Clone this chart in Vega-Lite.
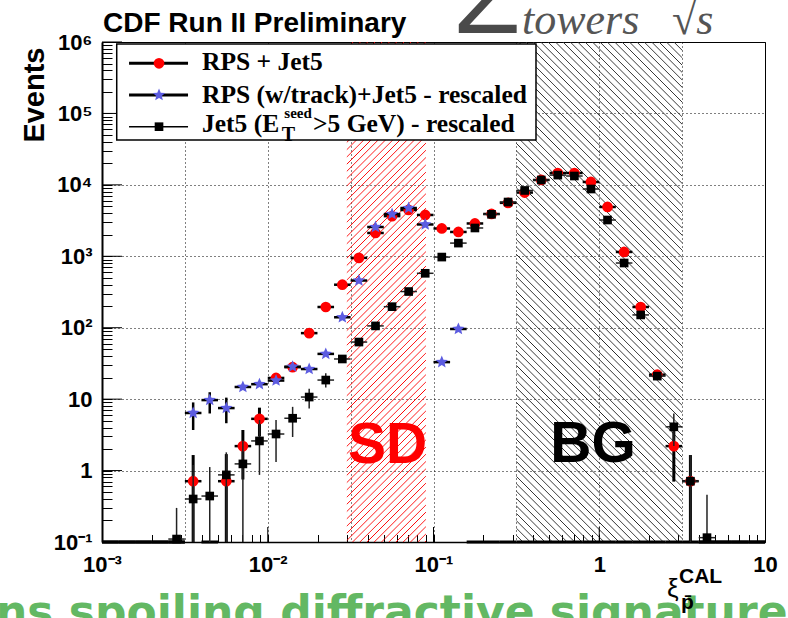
{
  "$schema": "https://vega.github.io/schema/vega-lite/v6.json",
  "width": 663,
  "height": 500,
  "autosize": "none",
  "padding": {"left": 102, "top": 42, "right": 23, "bottom": 76},
  "background": "white",
  "config": {"view": {"stroke": "black", "strokeWidth": 1}, "font": "Liberation Sans"},
  "data": {"values": [{}]},
  "datasets": {
    "bins": [
      {"s":"rps","x":0.001122,"xlo":0.001,"xhi":0.001259,"n":0},
      {"s":"rps","x":0.001413,"xlo":0.001259,"xhi":0.001585,"n":0},
      {"s":"rps","x":0.001778,"xlo":0.001585,"xhi":0.001995,"n":0},
      {"s":"rps","x":0.002239,"xlo":0.001995,"xhi":0.002512,"n":0},
      {"s":"rps","x":0.002818,"xlo":0.002512,"xhi":0.003162,"n":0},
      {"s":"rps","x":0.003548,"xlo":0.003162,"xhi":0.003981,"n":0.71,"lo":0.1,"hi":1.65},
      {"s":"rps","x":0.004467,"xlo":0.003981,"xhi":0.005012,"n":0},
      {"s":"rps","x":0.005623,"xlo":0.005012,"xhi":0.00631,"n":0.71,"lo":0.1,"hi":1.7},
      {"s":"rps","x":0.007079,"xlo":0.00631,"xhi":0.007943,"n":2.2,"lo":0.75,"hi":3.7},
      {"s":"rps","x":0.008913,"xlo":0.007943,"xhi":0.01,"n":5.3,"lo":3,"hi":7.6},
      {"s":"rps","x":0.01122,"xlo":0.01,"xhi":0.01259,"n":19.8},
      {"s":"rps","x":0.01413,"xlo":0.01259,"xhi":0.01585,"n":28},
      {"s":"rps","x":0.01778,"xlo":0.01585,"xhi":0.01995,"n":84},
      {"s":"rps","x":0.02239,"xlo":0.01995,"xhi":0.02512,"n":195},
      {"s":"rps","x":0.02818,"xlo":0.02512,"xhi":0.03162,"n":400},
      {"s":"rps","x":0.03548,"xlo":0.03162,"xhi":0.03981,"n":950},
      {"s":"rps","x":0.04467,"xlo":0.03981,"xhi":0.05012,"n":2120},
      {"s":"rps","x":0.05623,"xlo":0.05012,"xhi":0.0631,"n":3650},
      {"s":"rps","x":0.07079,"xlo":0.0631,"xhi":0.07943,"n":4450},
      {"s":"rps","x":0.08913,"xlo":0.07943,"xhi":0.1,"n":3790},
      {"s":"rps","x":0.1122,"xlo":0.1,"xhi":0.1259,"n":2450},
      {"s":"rps","x":0.1413,"xlo":0.1259,"xhi":0.1585,"n":2190},
      {"s":"rps","x":0.1778,"xlo":0.1585,"xhi":0.1995,"n":2880},
      {"s":"rps","x":0.2239,"xlo":0.1995,"xhi":0.2512,"n":3910},
      {"s":"rps","x":0.2818,"xlo":0.2512,"xhi":0.3162,"n":5600},
      {"s":"rps","x":0.3548,"xlo":0.3162,"xhi":0.3981,"n":7800},
      {"s":"rps","x":0.4467,"xlo":0.3981,"xhi":0.5012,"n":11700},
      {"s":"rps","x":0.5623,"xlo":0.5012,"xhi":0.631,"n":14650},
      {"s":"rps","x":0.7079,"xlo":0.631,"xhi":0.7943,"n":14650},
      {"s":"rps","x":0.8913,"xlo":0.7943,"xhi":1,"n":10970},
      {"s":"rps","x":1.122,"xlo":1,"xhi":1.259,"n":4900},
      {"s":"rps","x":1.413,"xlo":1.259,"xhi":1.585,"n":1150},
      {"s":"rps","x":1.778,"xlo":1.585,"xhi":1.995,"n":195},
      {"s":"rps","x":2.239,"xlo":1.995,"xhi":2.512,"n":22},
      {"s":"rps","x":2.818,"xlo":2.512,"xhi":3.162,"n":2.2,"lo":0.7,"hi":4.5},
      {"s":"rps","x":3.548,"xlo":3.162,"xhi":3.981,"n":0.71,"lo":0.1,"hi":1.65},
      {"s":"rps","x":4.467,"xlo":3.981,"xhi":5.012,"n":0},
      {"s":"rps","x":5.623,"xlo":5.012,"xhi":6.31,"n":0},
      {"s":"rps","x":7.079,"xlo":6.31,"xhi":7.943,"n":0},
      {"s":"rps","x":8.913,"xlo":7.943,"xhi":10,"n":0},

      {"s":"trk","x":0.001122,"xlo":0.001,"xhi":0.001259,"n":0},
      {"s":"trk","x":0.001413,"xlo":0.001259,"xhi":0.001585,"n":0},
      {"s":"trk","x":0.001778,"xlo":0.001585,"xhi":0.001995,"n":0},
      {"s":"trk","x":0.002239,"xlo":0.001995,"xhi":0.002512,"n":0},
      {"s":"trk","x":0.002818,"xlo":0.002512,"xhi":0.003162,"n":0},
      {"s":"trk","x":0.003548,"xlo":0.003162,"xhi":0.003981,"n":6.4,"lo":3.7,"hi":9},
      {"s":"trk","x":0.004467,"xlo":0.003981,"xhi":0.005012,"n":9.7,"lo":6.3,"hi":12.5},
      {"s":"trk","x":0.005623,"xlo":0.005012,"xhi":0.00631,"n":7.5,"lo":4.6,"hi":10.5},
      {"s":"trk","x":0.007079,"xlo":0.00631,"xhi":0.007943,"n":14.8},
      {"s":"trk","x":0.008913,"xlo":0.007943,"xhi":0.01,"n":16.2},
      {"s":"trk","x":0.01122,"xlo":0.01,"xhi":0.01259,"n":18.2},
      {"s":"trk","x":0.01413,"xlo":0.01259,"xhi":0.01585,"n":28.5},
      {"s":"trk","x":0.01778,"xlo":0.01585,"xhi":0.01995,"n":26.4},
      {"s":"trk","x":0.02239,"xlo":0.01995,"xhi":0.02512,"n":43},
      {"s":"trk","x":0.02818,"xlo":0.02512,"xhi":0.03162,"n":140},
      {"s":"trk","x":0.03548,"xlo":0.03162,"xhi":0.03981,"n":458},
      {"s":"trk","x":0.04467,"xlo":0.03981,"xhi":0.05012,"n":2570},
      {"s":"trk","x":0.05623,"xlo":0.05012,"xhi":0.0631,"n":3900},
      {"s":"trk","x":0.07079,"xlo":0.0631,"xhi":0.07943,"n":4740},
      {"s":"trk","x":0.08913,"xlo":0.07943,"xhi":0.1,"n":2790},
      {"s":"trk","x":0.1122,"xlo":0.1,"xhi":0.1259,"n":33},
      {"s":"trk","x":0.1413,"xlo":0.1259,"xhi":0.1585,"n":96},
      {"s":"trk","x":0.1778,"xlo":0.1585,"xhi":0.1995,"n":0},
      {"s":"trk","x":0.2239,"xlo":0.1995,"xhi":0.2512,"n":0},
      {"s":"trk","x":0.2818,"xlo":0.2512,"xhi":0.3162,"n":0},
      {"s":"trk","x":0.3548,"xlo":0.3162,"xhi":0.3981,"n":0},
      {"s":"trk","x":0.4467,"xlo":0.3981,"xhi":0.5012,"n":0},
      {"s":"trk","x":0.5623,"xlo":0.5012,"xhi":0.631,"n":0},
      {"s":"trk","x":0.7079,"xlo":0.631,"xhi":0.7943,"n":0},
      {"s":"trk","x":0.8913,"xlo":0.7943,"xhi":1,"n":0},
      {"s":"trk","x":1.122,"xlo":1,"xhi":1.259,"n":0},
      {"s":"trk","x":1.413,"xlo":1.259,"xhi":1.585,"n":0},
      {"s":"trk","x":1.778,"xlo":1.585,"xhi":1.995,"n":0},
      {"s":"trk","x":2.239,"xlo":1.995,"xhi":2.512,"n":0},
      {"s":"trk","x":2.818,"xlo":2.512,"xhi":3.162,"n":0},
      {"s":"trk","x":3.548,"xlo":3.162,"xhi":3.981,"n":0},
      {"s":"trk","x":4.467,"xlo":3.981,"xhi":5.012,"n":0},
      {"s":"trk","x":5.623,"xlo":5.012,"xhi":6.31,"n":0},
      {"s":"trk","x":7.079,"xlo":6.31,"xhi":7.943,"n":0},
      {"s":"trk","x":8.913,"xlo":7.943,"xhi":10,"n":0},

      {"s":"jet","x":0.002818,"xlo":0.002512,"xhi":0.003162,"n":0.11,"lo":0.1,"hi":0.3},
      {"s":"jet","x":0.003548,"xlo":0.003162,"xhi":0.003981,"n":0.4,"lo":0.1,"hi":1.2},
      {"s":"jet","x":0.004467,"xlo":0.003981,"xhi":0.005012,"n":0.44,"lo":0.1,"hi":1.12},
      {"s":"jet","x":0.005623,"xlo":0.005012,"xhi":0.00631,"n":0.87,"lo":0.1,"hi":1.8},
      {"s":"jet","x":0.007079,"xlo":0.00631,"xhi":0.007943,"n":1.24,"lo":0.1,"hi":2.6},
      {"s":"jet","x":0.008913,"xlo":0.007943,"xhi":0.01,"n":2.6,"lo":0.87,"hi":5.1},
      {"s":"jet","x":0.01122,"xlo":0.01,"xhi":0.01259,"n":3.25,"lo":1.32,"hi":5.1},
      {"s":"jet","x":0.01413,"xlo":0.01259,"xhi":0.01585,"n":5.4,"lo":2.95,"hi":7.8},
      {"s":"jet","x":0.01778,"xlo":0.01585,"xhi":0.01995,"n":10.7,"lo":7.4,"hi":14},
      {"s":"jet","x":0.02239,"xlo":0.01995,"xhi":0.02512,"n":18.5,"lo":14.5,"hi":23},
      {"s":"jet","x":0.02818,"xlo":0.02512,"xhi":0.03162,"n":36.5},
      {"s":"jet","x":0.03548,"xlo":0.03162,"xhi":0.03981,"n":63},
      {"s":"jet","x":0.04467,"xlo":0.03981,"xhi":0.05012,"n":106},
      {"s":"jet","x":0.05623,"xlo":0.05012,"xhi":0.0631,"n":197},
      {"s":"jet","x":0.07079,"xlo":0.0631,"xhi":0.07943,"n":321},
      {"s":"jet","x":0.08913,"xlo":0.07943,"xhi":0.1,"n":578},
      {"s":"jet","x":0.1122,"xlo":0.1,"xhi":0.1259,"n":975},
      {"s":"jet","x":0.1413,"xlo":0.1259,"xhi":0.1585,"n":1530},
      {"s":"jet","x":0.1778,"xlo":0.1585,"xhi":0.1995,"n":2490},
      {"s":"jet","x":0.2239,"xlo":0.1995,"xhi":0.2512,"n":3870},
      {"s":"jet","x":0.2818,"xlo":0.2512,"xhi":0.3162,"n":5750},
      {"s":"jet","x":0.3548,"xlo":0.3162,"xhi":0.3981,"n":8350},
      {"s":"jet","x":0.4467,"xlo":0.3981,"xhi":0.5012,"n":11700},
      {"s":"jet","x":0.5623,"xlo":0.5012,"xhi":0.631,"n":13700},
      {"s":"jet","x":0.7079,"xlo":0.631,"xhi":0.7943,"n":13300},
      {"s":"jet","x":0.8913,"xlo":0.7943,"xhi":1,"n":8750},
      {"s":"jet","x":1.122,"xlo":1,"xhi":1.259,"n":3220},
      {"s":"jet","x":1.413,"xlo":1.259,"xhi":1.585,"n":805},
      {"s":"jet","x":1.778,"xlo":1.585,"xhi":1.995,"n":151},
      {"s":"jet","x":2.239,"xlo":1.995,"xhi":2.512,"n":21},
      {"s":"jet","x":2.818,"xlo":2.512,"xhi":3.162,"n":4.1,"lo":2.2,"hi":6.3},
      {"s":"jet","x":3.548,"xlo":3.162,"xhi":3.981,"n":0.71,"lo":0.1,"hi":1.65},
      {"s":"jet","x":4.467,"xlo":3.981,"xhi":5.012,"n":0.115,"lo":0.1,"hi":0.46}
    ]
  },
  "layer": [
    {
      "description": "SD region, red forward hatching; also carries the shared scales and axes",
      "mark": {"type": "rect", "fill": {"gradient": "linear", "x1": 0, "y1": 0, "x2": 0.1785, "y2": 1.1298, "stops": [
        {"offset":0,"color":"rgba(255,0,0,0)"},
        {"offset":0.0094,"color":"rgba(255,0,0,0)"},{"offset":0.0109,"color":"#ff0000"},{"offset":0.0125,"color":"rgba(255,0,0,0)"},
        {"offset":0.0219,"color":"rgba(255,0,0,0)"},{"offset":0.0234,"color":"#ff0000"},{"offset":0.025,"color":"rgba(255,0,0,0)"},
        {"offset":0.0344,"color":"rgba(255,0,0,0)"},{"offset":0.0359,"color":"#ff0000"},{"offset":0.0375,"color":"rgba(255,0,0,0)"},
        {"offset":0.0469,"color":"rgba(255,0,0,0)"},{"offset":0.0484,"color":"#ff0000"},{"offset":0.05,"color":"rgba(255,0,0,0)"},
        {"offset":0.0594,"color":"rgba(255,0,0,0)"},{"offset":0.0609,"color":"#ff0000"},{"offset":0.0625,"color":"rgba(255,0,0,0)"},
        {"offset":0.0719,"color":"rgba(255,0,0,0)"},{"offset":0.0734,"color":"#ff0000"},{"offset":0.075,"color":"rgba(255,0,0,0)"},
        {"offset":0.0844,"color":"rgba(255,0,0,0)"},{"offset":0.0859,"color":"#ff0000"},{"offset":0.0875,"color":"rgba(255,0,0,0)"},
        {"offset":0.0969,"color":"rgba(255,0,0,0)"},{"offset":0.0984,"color":"#ff0000"},{"offset":0.1,"color":"rgba(255,0,0,0)"},
        {"offset":0.1094,"color":"rgba(255,0,0,0)"},{"offset":0.1109,"color":"#ff0000"},{"offset":0.1125,"color":"rgba(255,0,0,0)"},
        {"offset":0.1219,"color":"rgba(255,0,0,0)"},{"offset":0.1234,"color":"#ff0000"},{"offset":0.125,"color":"rgba(255,0,0,0)"},
        {"offset":0.1344,"color":"rgba(255,0,0,0)"},{"offset":0.1359,"color":"#ff0000"},{"offset":0.1375,"color":"rgba(255,0,0,0)"},
        {"offset":0.1469,"color":"rgba(255,0,0,0)"},{"offset":0.1484,"color":"#ff0000"},{"offset":0.15,"color":"rgba(255,0,0,0)"},
        {"offset":0.1594,"color":"rgba(255,0,0,0)"},{"offset":0.1609,"color":"#ff0000"},{"offset":0.1625,"color":"rgba(255,0,0,0)"},
        {"offset":0.1719,"color":"rgba(255,0,0,0)"},{"offset":0.1734,"color":"#ff0000"},{"offset":0.175,"color":"rgba(255,0,0,0)"},
        {"offset":0.1844,"color":"rgba(255,0,0,0)"},{"offset":0.1859,"color":"#ff0000"},{"offset":0.1875,"color":"rgba(255,0,0,0)"},
        {"offset":0.1969,"color":"rgba(255,0,0,0)"},{"offset":0.1984,"color":"#ff0000"},{"offset":0.2,"color":"rgba(255,0,0,0)"},
        {"offset":0.2094,"color":"rgba(255,0,0,0)"},{"offset":0.2109,"color":"#ff0000"},{"offset":0.2125,"color":"rgba(255,0,0,0)"},
        {"offset":0.2219,"color":"rgba(255,0,0,0)"},{"offset":0.2234,"color":"#ff0000"},{"offset":0.225,"color":"rgba(255,0,0,0)"},
        {"offset":0.2344,"color":"rgba(255,0,0,0)"},{"offset":0.2359,"color":"#ff0000"},{"offset":0.2375,"color":"rgba(255,0,0,0)"},
        {"offset":0.2469,"color":"rgba(255,0,0,0)"},{"offset":0.2484,"color":"#ff0000"},{"offset":0.25,"color":"rgba(255,0,0,0)"},
        {"offset":0.2594,"color":"rgba(255,0,0,0)"},{"offset":0.2609,"color":"#ff0000"},{"offset":0.2625,"color":"rgba(255,0,0,0)"},
        {"offset":0.2719,"color":"rgba(255,0,0,0)"},{"offset":0.2734,"color":"#ff0000"},{"offset":0.275,"color":"rgba(255,0,0,0)"},
        {"offset":0.2844,"color":"rgba(255,0,0,0)"},{"offset":0.2859,"color":"#ff0000"},{"offset":0.2875,"color":"rgba(255,0,0,0)"},
        {"offset":0.2969,"color":"rgba(255,0,0,0)"},{"offset":0.2984,"color":"#ff0000"},{"offset":0.3,"color":"rgba(255,0,0,0)"},
        {"offset":0.3094,"color":"rgba(255,0,0,0)"},{"offset":0.3109,"color":"#ff0000"},{"offset":0.3125,"color":"rgba(255,0,0,0)"},
        {"offset":0.3219,"color":"rgba(255,0,0,0)"},{"offset":0.3234,"color":"#ff0000"},{"offset":0.325,"color":"rgba(255,0,0,0)"},
        {"offset":0.3344,"color":"rgba(255,0,0,0)"},{"offset":0.3359,"color":"#ff0000"},{"offset":0.3375,"color":"rgba(255,0,0,0)"},
        {"offset":0.3469,"color":"rgba(255,0,0,0)"},{"offset":0.3484,"color":"#ff0000"},{"offset":0.35,"color":"rgba(255,0,0,0)"},
        {"offset":0.3594,"color":"rgba(255,0,0,0)"},{"offset":0.3609,"color":"#ff0000"},{"offset":0.3625,"color":"rgba(255,0,0,0)"},
        {"offset":0.3719,"color":"rgba(255,0,0,0)"},{"offset":0.3734,"color":"#ff0000"},{"offset":0.375,"color":"rgba(255,0,0,0)"},
        {"offset":0.3844,"color":"rgba(255,0,0,0)"},{"offset":0.3859,"color":"#ff0000"},{"offset":0.3875,"color":"rgba(255,0,0,0)"},
        {"offset":0.3969,"color":"rgba(255,0,0,0)"},{"offset":0.3984,"color":"#ff0000"},{"offset":0.4,"color":"rgba(255,0,0,0)"},
        {"offset":0.4094,"color":"rgba(255,0,0,0)"},{"offset":0.4109,"color":"#ff0000"},{"offset":0.4125,"color":"rgba(255,0,0,0)"},
        {"offset":0.4219,"color":"rgba(255,0,0,0)"},{"offset":0.4234,"color":"#ff0000"},{"offset":0.425,"color":"rgba(255,0,0,0)"},
        {"offset":0.4344,"color":"rgba(255,0,0,0)"},{"offset":0.4359,"color":"#ff0000"},{"offset":0.4375,"color":"rgba(255,0,0,0)"},
        {"offset":0.4469,"color":"rgba(255,0,0,0)"},{"offset":0.4484,"color":"#ff0000"},{"offset":0.45,"color":"rgba(255,0,0,0)"},
        {"offset":0.4594,"color":"rgba(255,0,0,0)"},{"offset":0.4609,"color":"#ff0000"},{"offset":0.4625,"color":"rgba(255,0,0,0)"},
        {"offset":0.4719,"color":"rgba(255,0,0,0)"},{"offset":0.4734,"color":"#ff0000"},{"offset":0.475,"color":"rgba(255,0,0,0)"},
        {"offset":0.4844,"color":"rgba(255,0,0,0)"},{"offset":0.4859,"color":"#ff0000"},{"offset":0.4875,"color":"rgba(255,0,0,0)"},
        {"offset":0.4969,"color":"rgba(255,0,0,0)"},{"offset":0.4984,"color":"#ff0000"},{"offset":0.5,"color":"rgba(255,0,0,0)"},
        {"offset":0.5094,"color":"rgba(255,0,0,0)"},{"offset":0.5109,"color":"#ff0000"},{"offset":0.5125,"color":"rgba(255,0,0,0)"},
        {"offset":0.5219,"color":"rgba(255,0,0,0)"},{"offset":0.5234,"color":"#ff0000"},{"offset":0.525,"color":"rgba(255,0,0,0)"},
        {"offset":0.5344,"color":"rgba(255,0,0,0)"},{"offset":0.5359,"color":"#ff0000"},{"offset":0.5375,"color":"rgba(255,0,0,0)"},
        {"offset":0.5469,"color":"rgba(255,0,0,0)"},{"offset":0.5484,"color":"#ff0000"},{"offset":0.55,"color":"rgba(255,0,0,0)"},
        {"offset":0.5594,"color":"rgba(255,0,0,0)"},{"offset":0.5609,"color":"#ff0000"},{"offset":0.5625,"color":"rgba(255,0,0,0)"},
        {"offset":0.5719,"color":"rgba(255,0,0,0)"},{"offset":0.5734,"color":"#ff0000"},{"offset":0.575,"color":"rgba(255,0,0,0)"},
        {"offset":0.5844,"color":"rgba(255,0,0,0)"},{"offset":0.5859,"color":"#ff0000"},{"offset":0.5875,"color":"rgba(255,0,0,0)"},
        {"offset":0.5969,"color":"rgba(255,0,0,0)"},{"offset":0.5984,"color":"#ff0000"},{"offset":0.6,"color":"rgba(255,0,0,0)"},
        {"offset":0.6094,"color":"rgba(255,0,0,0)"},{"offset":0.6109,"color":"#ff0000"},{"offset":0.6125,"color":"rgba(255,0,0,0)"},
        {"offset":0.6219,"color":"rgba(255,0,0,0)"},{"offset":0.6234,"color":"#ff0000"},{"offset":0.625,"color":"rgba(255,0,0,0)"},
        {"offset":0.6344,"color":"rgba(255,0,0,0)"},{"offset":0.6359,"color":"#ff0000"},{"offset":0.6375,"color":"rgba(255,0,0,0)"},
        {"offset":0.6469,"color":"rgba(255,0,0,0)"},{"offset":0.6484,"color":"#ff0000"},{"offset":0.65,"color":"rgba(255,0,0,0)"},
        {"offset":0.6594,"color":"rgba(255,0,0,0)"},{"offset":0.6609,"color":"#ff0000"},{"offset":0.6625,"color":"rgba(255,0,0,0)"},
        {"offset":0.6719,"color":"rgba(255,0,0,0)"},{"offset":0.6734,"color":"#ff0000"},{"offset":0.675,"color":"rgba(255,0,0,0)"},
        {"offset":0.6844,"color":"rgba(255,0,0,0)"},{"offset":0.6859,"color":"#ff0000"},{"offset":0.6875,"color":"rgba(255,0,0,0)"},
        {"offset":0.6969,"color":"rgba(255,0,0,0)"},{"offset":0.6984,"color":"#ff0000"},{"offset":0.7,"color":"rgba(255,0,0,0)"},
        {"offset":0.7094,"color":"rgba(255,0,0,0)"},{"offset":0.7109,"color":"#ff0000"},{"offset":0.7125,"color":"rgba(255,0,0,0)"},
        {"offset":0.7219,"color":"rgba(255,0,0,0)"},{"offset":0.7234,"color":"#ff0000"},{"offset":0.725,"color":"rgba(255,0,0,0)"},
        {"offset":0.7344,"color":"rgba(255,0,0,0)"},{"offset":0.7359,"color":"#ff0000"},{"offset":0.7375,"color":"rgba(255,0,0,0)"},
        {"offset":0.7469,"color":"rgba(255,0,0,0)"},{"offset":0.7484,"color":"#ff0000"},{"offset":0.75,"color":"rgba(255,0,0,0)"},
        {"offset":0.7594,"color":"rgba(255,0,0,0)"},{"offset":0.7609,"color":"#ff0000"},{"offset":0.7625,"color":"rgba(255,0,0,0)"},
        {"offset":0.7719,"color":"rgba(255,0,0,0)"},{"offset":0.7734,"color":"#ff0000"},{"offset":0.775,"color":"rgba(255,0,0,0)"},
        {"offset":0.7844,"color":"rgba(255,0,0,0)"},{"offset":0.7859,"color":"#ff0000"},{"offset":0.7875,"color":"rgba(255,0,0,0)"},
        {"offset":0.7969,"color":"rgba(255,0,0,0)"},{"offset":0.7984,"color":"#ff0000"},{"offset":0.8,"color":"rgba(255,0,0,0)"},
        {"offset":0.8094,"color":"rgba(255,0,0,0)"},{"offset":0.8109,"color":"#ff0000"},{"offset":0.8125,"color":"rgba(255,0,0,0)"},
        {"offset":0.8219,"color":"rgba(255,0,0,0)"},{"offset":0.8234,"color":"#ff0000"},{"offset":0.825,"color":"rgba(255,0,0,0)"},
        {"offset":0.8344,"color":"rgba(255,0,0,0)"},{"offset":0.8359,"color":"#ff0000"},{"offset":0.8375,"color":"rgba(255,0,0,0)"},
        {"offset":0.8469,"color":"rgba(255,0,0,0)"},{"offset":0.8484,"color":"#ff0000"},{"offset":0.85,"color":"rgba(255,0,0,0)"},
        {"offset":0.8594,"color":"rgba(255,0,0,0)"},{"offset":0.8609,"color":"#ff0000"},{"offset":0.8625,"color":"rgba(255,0,0,0)"},
        {"offset":0.8719,"color":"rgba(255,0,0,0)"},{"offset":0.8734,"color":"#ff0000"},{"offset":0.875,"color":"rgba(255,0,0,0)"},
        {"offset":0.8844,"color":"rgba(255,0,0,0)"},{"offset":0.8859,"color":"#ff0000"},{"offset":0.8875,"color":"rgba(255,0,0,0)"},
        {"offset":0.8969,"color":"rgba(255,0,0,0)"},{"offset":0.8984,"color":"#ff0000"},{"offset":0.9,"color":"rgba(255,0,0,0)"},
        {"offset":0.9094,"color":"rgba(255,0,0,0)"},{"offset":0.9109,"color":"#ff0000"},{"offset":0.9125,"color":"rgba(255,0,0,0)"},
        {"offset":0.9219,"color":"rgba(255,0,0,0)"},{"offset":0.9234,"color":"#ff0000"},{"offset":0.925,"color":"rgba(255,0,0,0)"},
        {"offset":0.9344,"color":"rgba(255,0,0,0)"},{"offset":0.9359,"color":"#ff0000"},{"offset":0.9375,"color":"rgba(255,0,0,0)"},
        {"offset":0.9469,"color":"rgba(255,0,0,0)"},{"offset":0.9484,"color":"#ff0000"},{"offset":0.95,"color":"rgba(255,0,0,0)"},
        {"offset":0.9594,"color":"rgba(255,0,0,0)"},{"offset":0.9609,"color":"#ff0000"},{"offset":0.9625,"color":"rgba(255,0,0,0)"},
        {"offset":0.9719,"color":"rgba(255,0,0,0)"},{"offset":0.9734,"color":"#ff0000"},{"offset":0.975,"color":"rgba(255,0,0,0)"},
        {"offset":0.9844,"color":"rgba(255,0,0,0)"},{"offset":0.9859,"color":"#ff0000"},{"offset":0.9875,"color":"rgba(255,0,0,0)"},
        {"offset":0.9969,"color":"rgba(255,0,0,0)"},{"offset":0.9984,"color":"#ff0000"},{"offset":1,"color":"rgba(255,0,0,0)"}
      ]}},
      "encoding": {
        "x": {"datum": 0.03, "type": "quantitative", "scale": {"type": "log", "domain": [0.001, 10], "nice": false},
          "axis": {
            "title": null,
            "values": [0.001,0.002,0.003,0.0031623,0.004,0.005,0.006,0.007,0.008,0.009,0.01,0.02,0.03,0.031623,0.04,0.05,0.06,0.07,0.08,0.09,0.1,0.2,0.3,0.31623,0.4,0.5,0.6,0.7,0.8,0.9,1,2,3,3.1623,4,5,6,7,8,9,10],
            "labelExpr": "datum.value==0.001?'10⁻³':datum.value==0.01?'10⁻²':datum.value==0.1?'10⁻¹':datum.value==1?'1':datum.value==10?'10':''",
            "labelFont": "Liberation Sans", "labelFontSize": 22, "labelFontWeight": "bold", "labelColor": "black",
            "labelPadding": 20, "labelOverlap": false, "labelFlush": false, "labelBound": false, "labelBaseline": "top",
            "tickSize": -7.5,
            "tickOpacity": {"condition": {"test": "abs(2*log(datum.value)/LN10-round(2*log(datum.value)/LN10))<0.01 && abs(log(datum.value)/LN10-round(log(datum.value)/LN10))>0.01", "value": 0}, "value": 1},
            "tickColor": "black", "tickWidth": 1,
            "grid": true, "gridColor": "black", "gridDash": [1, 3], "gridWidth": 1,
            "gridOpacity": {"condition": {"test": "abs(2*log(datum.value)/LN10-round(2*log(datum.value)/LN10))<0.01", "value": 1}, "value": 0},
            "domainColor": "black", "domainWidth": 1.5
          }},
        "x2": {"datum": 0.09},
        "y": {"datum": 0.1, "type": "quantitative", "scale": {"type": "log", "domain": [0.1, 1000000], "nice": false},
          "axis": {
            "title": "Events", "titleFont": "Liberation Sans", "titleFontSize": 29, "titleFontWeight": "bold", "titleColor": "black",
            "titleAngle": 270, "titleX": -59, "titleY": 5, "titleAlign": "right", "titleBaseline": "alphabetic",
            "values": [0.1,0.2,0.3,0.4,0.5,0.6,0.7,0.8,0.9,1,2,3,4,5,6,7,8,9,10,20,30,40,50,60,70,80,90,100,200,300,400,500,600,700,800,900,1000,2000,3000,4000,5000,6000,7000,8000,9000,10000,20000,30000,40000,50000,60000,70000,80000,90000,100000,200000,300000,400000,500000,600000,700000,800000,900000,1000000],
            "labelExpr": "datum.value==0.1?'10⁻¹':datum.value==1?'1':datum.value==10?'10':datum.value==100?'10²':datum.value==1000?'10³':datum.value==10000?'10⁴':datum.value==100000?'10⁵':datum.value==1000000?'10⁶':''",
            "labelFont": "Liberation Sans", "labelFontSize": 22, "labelFontWeight": "bold", "labelColor": "black",
            "labelPadding": 20, "labelOverlap": false, "labelFlush": false, "labelBound": false, "labelBaseline": "middle",
            "tickSize": -10,
            "tickColor": "black", "tickWidth": 1,
            "grid": true, "gridColor": "black", "gridDash": [1, 3], "gridWidth": 1,
            "gridOpacity": {"condition": {"test": "abs(log(datum.value)/LN10-round(log(datum.value)/LN10))<0.001", "value": 1}, "value": 0},
            "domainColor": "black", "domainWidth": 2
          }},
        "y2": {"datum": 1000000}
      }
    },
    {
      "description": "BG region, dark backward hatching",
      "mark": {"type": "rect", "fill": {"gradient": "linear", "x1": 0, "y1": 1, "x2": 0.442, "y2": -0.333, "stops": [
        {"offset":0,"color":"rgba(40,40,40,0)"},
        {"offset":0.0075,"color":"rgba(40,40,40,0)"},{"offset":0.0088,"color":"#282828"},{"offset":0.01,"color":"rgba(40,40,40,0)"},
        {"offset":0.0175,"color":"rgba(40,40,40,0)"},{"offset":0.0188,"color":"#282828"},{"offset":0.02,"color":"rgba(40,40,40,0)"},
        {"offset":0.0275,"color":"rgba(40,40,40,0)"},{"offset":0.0288,"color":"#282828"},{"offset":0.03,"color":"rgba(40,40,40,0)"},
        {"offset":0.0375,"color":"rgba(40,40,40,0)"},{"offset":0.0388,"color":"#282828"},{"offset":0.04,"color":"rgba(40,40,40,0)"},
        {"offset":0.0475,"color":"rgba(40,40,40,0)"},{"offset":0.0488,"color":"#282828"},{"offset":0.05,"color":"rgba(40,40,40,0)"},
        {"offset":0.0575,"color":"rgba(40,40,40,0)"},{"offset":0.0588,"color":"#282828"},{"offset":0.06,"color":"rgba(40,40,40,0)"},
        {"offset":0.0675,"color":"rgba(40,40,40,0)"},{"offset":0.0688,"color":"#282828"},{"offset":0.07,"color":"rgba(40,40,40,0)"},
        {"offset":0.0775,"color":"rgba(40,40,40,0)"},{"offset":0.0788,"color":"#282828"},{"offset":0.08,"color":"rgba(40,40,40,0)"},
        {"offset":0.0875,"color":"rgba(40,40,40,0)"},{"offset":0.0888,"color":"#282828"},{"offset":0.09,"color":"rgba(40,40,40,0)"},
        {"offset":0.0975,"color":"rgba(40,40,40,0)"},{"offset":0.0988,"color":"#282828"},{"offset":0.1,"color":"rgba(40,40,40,0)"},
        {"offset":0.1075,"color":"rgba(40,40,40,0)"},{"offset":0.1088,"color":"#282828"},{"offset":0.11,"color":"rgba(40,40,40,0)"},
        {"offset":0.1175,"color":"rgba(40,40,40,0)"},{"offset":0.1188,"color":"#282828"},{"offset":0.12,"color":"rgba(40,40,40,0)"},
        {"offset":0.1275,"color":"rgba(40,40,40,0)"},{"offset":0.1288,"color":"#282828"},{"offset":0.13,"color":"rgba(40,40,40,0)"},
        {"offset":0.1375,"color":"rgba(40,40,40,0)"},{"offset":0.1388,"color":"#282828"},{"offset":0.14,"color":"rgba(40,40,40,0)"},
        {"offset":0.1475,"color":"rgba(40,40,40,0)"},{"offset":0.1488,"color":"#282828"},{"offset":0.15,"color":"rgba(40,40,40,0)"},
        {"offset":0.1575,"color":"rgba(40,40,40,0)"},{"offset":0.1588,"color":"#282828"},{"offset":0.16,"color":"rgba(40,40,40,0)"},
        {"offset":0.1675,"color":"rgba(40,40,40,0)"},{"offset":0.1688,"color":"#282828"},{"offset":0.17,"color":"rgba(40,40,40,0)"},
        {"offset":0.1775,"color":"rgba(40,40,40,0)"},{"offset":0.1788,"color":"#282828"},{"offset":0.18,"color":"rgba(40,40,40,0)"},
        {"offset":0.1875,"color":"rgba(40,40,40,0)"},{"offset":0.1888,"color":"#282828"},{"offset":0.19,"color":"rgba(40,40,40,0)"},
        {"offset":0.1975,"color":"rgba(40,40,40,0)"},{"offset":0.1988,"color":"#282828"},{"offset":0.2,"color":"rgba(40,40,40,0)"},
        {"offset":0.2075,"color":"rgba(40,40,40,0)"},{"offset":0.2088,"color":"#282828"},{"offset":0.21,"color":"rgba(40,40,40,0)"},
        {"offset":0.2175,"color":"rgba(40,40,40,0)"},{"offset":0.2188,"color":"#282828"},{"offset":0.22,"color":"rgba(40,40,40,0)"},
        {"offset":0.2275,"color":"rgba(40,40,40,0)"},{"offset":0.2288,"color":"#282828"},{"offset":0.23,"color":"rgba(40,40,40,0)"},
        {"offset":0.2375,"color":"rgba(40,40,40,0)"},{"offset":0.2388,"color":"#282828"},{"offset":0.24,"color":"rgba(40,40,40,0)"},
        {"offset":0.2475,"color":"rgba(40,40,40,0)"},{"offset":0.2488,"color":"#282828"},{"offset":0.25,"color":"rgba(40,40,40,0)"},
        {"offset":0.2575,"color":"rgba(40,40,40,0)"},{"offset":0.2588,"color":"#282828"},{"offset":0.26,"color":"rgba(40,40,40,0)"},
        {"offset":0.2675,"color":"rgba(40,40,40,0)"},{"offset":0.2688,"color":"#282828"},{"offset":0.27,"color":"rgba(40,40,40,0)"},
        {"offset":0.2775,"color":"rgba(40,40,40,0)"},{"offset":0.2788,"color":"#282828"},{"offset":0.28,"color":"rgba(40,40,40,0)"},
        {"offset":0.2875,"color":"rgba(40,40,40,0)"},{"offset":0.2888,"color":"#282828"},{"offset":0.29,"color":"rgba(40,40,40,0)"},
        {"offset":0.2975,"color":"rgba(40,40,40,0)"},{"offset":0.2988,"color":"#282828"},{"offset":0.3,"color":"rgba(40,40,40,0)"},
        {"offset":0.3075,"color":"rgba(40,40,40,0)"},{"offset":0.3088,"color":"#282828"},{"offset":0.31,"color":"rgba(40,40,40,0)"},
        {"offset":0.3175,"color":"rgba(40,40,40,0)"},{"offset":0.3188,"color":"#282828"},{"offset":0.32,"color":"rgba(40,40,40,0)"},
        {"offset":0.3275,"color":"rgba(40,40,40,0)"},{"offset":0.3288,"color":"#282828"},{"offset":0.33,"color":"rgba(40,40,40,0)"},
        {"offset":0.3375,"color":"rgba(40,40,40,0)"},{"offset":0.3388,"color":"#282828"},{"offset":0.34,"color":"rgba(40,40,40,0)"},
        {"offset":0.3475,"color":"rgba(40,40,40,0)"},{"offset":0.3488,"color":"#282828"},{"offset":0.35,"color":"rgba(40,40,40,0)"},
        {"offset":0.3575,"color":"rgba(40,40,40,0)"},{"offset":0.3588,"color":"#282828"},{"offset":0.36,"color":"rgba(40,40,40,0)"},
        {"offset":0.3675,"color":"rgba(40,40,40,0)"},{"offset":0.3688,"color":"#282828"},{"offset":0.37,"color":"rgba(40,40,40,0)"},
        {"offset":0.3775,"color":"rgba(40,40,40,0)"},{"offset":0.3788,"color":"#282828"},{"offset":0.38,"color":"rgba(40,40,40,0)"},
        {"offset":0.3875,"color":"rgba(40,40,40,0)"},{"offset":0.3888,"color":"#282828"},{"offset":0.39,"color":"rgba(40,40,40,0)"},
        {"offset":0.3975,"color":"rgba(40,40,40,0)"},{"offset":0.3988,"color":"#282828"},{"offset":0.4,"color":"rgba(40,40,40,0)"},
        {"offset":0.4075,"color":"rgba(40,40,40,0)"},{"offset":0.4088,"color":"#282828"},{"offset":0.41,"color":"rgba(40,40,40,0)"},
        {"offset":0.4175,"color":"rgba(40,40,40,0)"},{"offset":0.4188,"color":"#282828"},{"offset":0.42,"color":"rgba(40,40,40,0)"},
        {"offset":0.4275,"color":"rgba(40,40,40,0)"},{"offset":0.4288,"color":"#282828"},{"offset":0.43,"color":"rgba(40,40,40,0)"},
        {"offset":0.4375,"color":"rgba(40,40,40,0)"},{"offset":0.4388,"color":"#282828"},{"offset":0.44,"color":"rgba(40,40,40,0)"},
        {"offset":0.4475,"color":"rgba(40,40,40,0)"},{"offset":0.4488,"color":"#282828"},{"offset":0.45,"color":"rgba(40,40,40,0)"},
        {"offset":0.4575,"color":"rgba(40,40,40,0)"},{"offset":0.4588,"color":"#282828"},{"offset":0.46,"color":"rgba(40,40,40,0)"},
        {"offset":0.4675,"color":"rgba(40,40,40,0)"},{"offset":0.4688,"color":"#282828"},{"offset":0.47,"color":"rgba(40,40,40,0)"},
        {"offset":0.4775,"color":"rgba(40,40,40,0)"},{"offset":0.4788,"color":"#282828"},{"offset":0.48,"color":"rgba(40,40,40,0)"},
        {"offset":0.4875,"color":"rgba(40,40,40,0)"},{"offset":0.4888,"color":"#282828"},{"offset":0.49,"color":"rgba(40,40,40,0)"},
        {"offset":0.4975,"color":"rgba(40,40,40,0)"},{"offset":0.4988,"color":"#282828"},{"offset":0.5,"color":"rgba(40,40,40,0)"},
        {"offset":0.5075,"color":"rgba(40,40,40,0)"},{"offset":0.5088,"color":"#282828"},{"offset":0.51,"color":"rgba(40,40,40,0)"},
        {"offset":0.5175,"color":"rgba(40,40,40,0)"},{"offset":0.5188,"color":"#282828"},{"offset":0.52,"color":"rgba(40,40,40,0)"},
        {"offset":0.5275,"color":"rgba(40,40,40,0)"},{"offset":0.5288,"color":"#282828"},{"offset":0.53,"color":"rgba(40,40,40,0)"},
        {"offset":0.5375,"color":"rgba(40,40,40,0)"},{"offset":0.5388,"color":"#282828"},{"offset":0.54,"color":"rgba(40,40,40,0)"},
        {"offset":0.5475,"color":"rgba(40,40,40,0)"},{"offset":0.5488,"color":"#282828"},{"offset":0.55,"color":"rgba(40,40,40,0)"},
        {"offset":0.5575,"color":"rgba(40,40,40,0)"},{"offset":0.5588,"color":"#282828"},{"offset":0.56,"color":"rgba(40,40,40,0)"},
        {"offset":0.5675,"color":"rgba(40,40,40,0)"},{"offset":0.5688,"color":"#282828"},{"offset":0.57,"color":"rgba(40,40,40,0)"},
        {"offset":0.5775,"color":"rgba(40,40,40,0)"},{"offset":0.5788,"color":"#282828"},{"offset":0.58,"color":"rgba(40,40,40,0)"},
        {"offset":0.5875,"color":"rgba(40,40,40,0)"},{"offset":0.5888,"color":"#282828"},{"offset":0.59,"color":"rgba(40,40,40,0)"},
        {"offset":0.5975,"color":"rgba(40,40,40,0)"},{"offset":0.5988,"color":"#282828"},{"offset":0.6,"color":"rgba(40,40,40,0)"},
        {"offset":0.6075,"color":"rgba(40,40,40,0)"},{"offset":0.6088,"color":"#282828"},{"offset":0.61,"color":"rgba(40,40,40,0)"},
        {"offset":0.6175,"color":"rgba(40,40,40,0)"},{"offset":0.6188,"color":"#282828"},{"offset":0.62,"color":"rgba(40,40,40,0)"},
        {"offset":0.6275,"color":"rgba(40,40,40,0)"},{"offset":0.6288,"color":"#282828"},{"offset":0.63,"color":"rgba(40,40,40,0)"},
        {"offset":0.6375,"color":"rgba(40,40,40,0)"},{"offset":0.6388,"color":"#282828"},{"offset":0.64,"color":"rgba(40,40,40,0)"},
        {"offset":0.6475,"color":"rgba(40,40,40,0)"},{"offset":0.6488,"color":"#282828"},{"offset":0.65,"color":"rgba(40,40,40,0)"},
        {"offset":0.6575,"color":"rgba(40,40,40,0)"},{"offset":0.6588,"color":"#282828"},{"offset":0.66,"color":"rgba(40,40,40,0)"},
        {"offset":0.6675,"color":"rgba(40,40,40,0)"},{"offset":0.6688,"color":"#282828"},{"offset":0.67,"color":"rgba(40,40,40,0)"},
        {"offset":0.6775,"color":"rgba(40,40,40,0)"},{"offset":0.6788,"color":"#282828"},{"offset":0.68,"color":"rgba(40,40,40,0)"},
        {"offset":0.6875,"color":"rgba(40,40,40,0)"},{"offset":0.6888,"color":"#282828"},{"offset":0.69,"color":"rgba(40,40,40,0)"},
        {"offset":0.6975,"color":"rgba(40,40,40,0)"},{"offset":0.6988,"color":"#282828"},{"offset":0.7,"color":"rgba(40,40,40,0)"},
        {"offset":0.7075,"color":"rgba(40,40,40,0)"},{"offset":0.7088,"color":"#282828"},{"offset":0.71,"color":"rgba(40,40,40,0)"},
        {"offset":0.7175,"color":"rgba(40,40,40,0)"},{"offset":0.7188,"color":"#282828"},{"offset":0.72,"color":"rgba(40,40,40,0)"},
        {"offset":0.7275,"color":"rgba(40,40,40,0)"},{"offset":0.7288,"color":"#282828"},{"offset":0.73,"color":"rgba(40,40,40,0)"},
        {"offset":0.7375,"color":"rgba(40,40,40,0)"},{"offset":0.7388,"color":"#282828"},{"offset":0.74,"color":"rgba(40,40,40,0)"},
        {"offset":0.7475,"color":"rgba(40,40,40,0)"},{"offset":0.7488,"color":"#282828"},{"offset":0.75,"color":"rgba(40,40,40,0)"},
        {"offset":0.7575,"color":"rgba(40,40,40,0)"},{"offset":0.7588,"color":"#282828"},{"offset":0.76,"color":"rgba(40,40,40,0)"},
        {"offset":0.7675,"color":"rgba(40,40,40,0)"},{"offset":0.7688,"color":"#282828"},{"offset":0.77,"color":"rgba(40,40,40,0)"},
        {"offset":0.7775,"color":"rgba(40,40,40,0)"},{"offset":0.7788,"color":"#282828"},{"offset":0.78,"color":"rgba(40,40,40,0)"},
        {"offset":0.7875,"color":"rgba(40,40,40,0)"},{"offset":0.7888,"color":"#282828"},{"offset":0.79,"color":"rgba(40,40,40,0)"},
        {"offset":0.7975,"color":"rgba(40,40,40,0)"},{"offset":0.7988,"color":"#282828"},{"offset":0.8,"color":"rgba(40,40,40,0)"},
        {"offset":0.8075,"color":"rgba(40,40,40,0)"},{"offset":0.8088,"color":"#282828"},{"offset":0.81,"color":"rgba(40,40,40,0)"},
        {"offset":0.8175,"color":"rgba(40,40,40,0)"},{"offset":0.8188,"color":"#282828"},{"offset":0.82,"color":"rgba(40,40,40,0)"},
        {"offset":0.8275,"color":"rgba(40,40,40,0)"},{"offset":0.8288,"color":"#282828"},{"offset":0.83,"color":"rgba(40,40,40,0)"},
        {"offset":0.8375,"color":"rgba(40,40,40,0)"},{"offset":0.8388,"color":"#282828"},{"offset":0.84,"color":"rgba(40,40,40,0)"},
        {"offset":0.8475,"color":"rgba(40,40,40,0)"},{"offset":0.8488,"color":"#282828"},{"offset":0.85,"color":"rgba(40,40,40,0)"},
        {"offset":0.8575,"color":"rgba(40,40,40,0)"},{"offset":0.8588,"color":"#282828"},{"offset":0.86,"color":"rgba(40,40,40,0)"},
        {"offset":0.8675,"color":"rgba(40,40,40,0)"},{"offset":0.8688,"color":"#282828"},{"offset":0.87,"color":"rgba(40,40,40,0)"},
        {"offset":0.8775,"color":"rgba(40,40,40,0)"},{"offset":0.8788,"color":"#282828"},{"offset":0.88,"color":"rgba(40,40,40,0)"},
        {"offset":0.8875,"color":"rgba(40,40,40,0)"},{"offset":0.8888,"color":"#282828"},{"offset":0.89,"color":"rgba(40,40,40,0)"},
        {"offset":0.8975,"color":"rgba(40,40,40,0)"},{"offset":0.8988,"color":"#282828"},{"offset":0.9,"color":"rgba(40,40,40,0)"},
        {"offset":0.9075,"color":"rgba(40,40,40,0)"},{"offset":0.9088,"color":"#282828"},{"offset":0.91,"color":"rgba(40,40,40,0)"},
        {"offset":0.9175,"color":"rgba(40,40,40,0)"},{"offset":0.9188,"color":"#282828"},{"offset":0.92,"color":"rgba(40,40,40,0)"},
        {"offset":1,"color":"rgba(40,40,40,0)"}
      ]}},
      "encoding": {
        "x": {"datum": 0.31623, "type": "quantitative"},
        "x2": {"datum": 3.1623},
        "y": {"datum": 0.1, "type": "quantitative"},
        "y2": {"datum": 1000000}
      }
    },
    {
      "description": "longer ticks at each decade of the y axis",
      "data": {"values": [{"v":0.1},{"v":1},{"v":10},{"v":100},{"v":1000},{"v":10000},{"v":100000},{"v":1000000}]},
      "mark": {"type": "rule", "color": "black", "strokeWidth": 1},
      "encoding": {
        "x": {"datum": 0.001, "type": "quantitative"},
        "x2": {"datum": 0.0013205},
        "y": {"field": "v", "type": "quantitative"}
      }
    },
    {
      "description": "longer ticks at each decade of the x axis",
      "data": {"values": [{"v":0.01},{"v":0.1},{"v":1}]},
      "mark": {"type": "rule", "color": "black", "strokeWidth": 1},
      "encoding": {
        "x": {"field": "v", "type": "quantitative"},
        "y": {"datum": 0.1, "type": "quantitative"},
        "y2": {"datum": 0.16218}
      }
    },
    {
      "description": "empty bins sit on the floor of the log axis",
      "data": {"name": "bins"},
      "transform": [{"filter": "datum.n == 0"}],
      "mark": {"type": "rule", "color": "black", "strokeWidth": 3},
      "encoding": {
        "x": {"field": "xlo", "type": "quantitative"},
        "x2": {"field": "xhi"},
        "y": {"datum": 0.1, "type": "quantitative"}
      }
    },
    {
      "data": {"name": "bins"},
      "transform": [{"filter": "datum.s == 'rps' && isValid(datum.lo)"}],
      "mark": {"type": "rule", "color": "black", "strokeWidth": 3},
      "encoding": {
        "x": {"field": "x", "type": "quantitative"},
        "y": {"field": "lo", "type": "quantitative"},
        "y2": {"field": "hi"}
      }
    },
    {
      "data": {"name": "bins"},
      "transform": [{"filter": "datum.s == 'rps' && datum.n > 0"}],
      "mark": {"type": "rule", "color": "black", "strokeWidth": 2.5},
      "encoding": {
        "x": {"field": "xlo", "type": "quantitative"},
        "x2": {"field": "xhi"},
        "y": {"field": "n", "type": "quantitative"}
      }
    },
    {
      "data": {"name": "bins"},
      "transform": [{"filter": "datum.s == 'rps' && datum.n > 0"}],
      "mark": {"type": "point", "shape": "circle", "filled": true, "color": "#ff0000", "opacity": 1, "size": 115},
      "encoding": {
        "x": {"field": "x", "type": "quantitative"},
        "y": {"field": "n", "type": "quantitative"}
      }
    },
    {
      "data": {"name": "bins"},
      "transform": [{"filter": "datum.s == 'trk' && isValid(datum.lo)"}],
      "mark": {"type": "rule", "color": "black", "strokeWidth": 2.5},
      "encoding": {
        "x": {"field": "x", "type": "quantitative"},
        "y": {"field": "lo", "type": "quantitative"},
        "y2": {"field": "hi"}
      }
    },
    {
      "data": {"name": "bins"},
      "transform": [{"filter": "datum.s == 'trk' && datum.n > 0"}],
      "mark": {"type": "rule", "color": "black", "strokeWidth": 2.5},
      "encoding": {
        "x": {"field": "xlo", "type": "quantitative"},
        "x2": {"field": "xhi"},
        "y": {"field": "n", "type": "quantitative"}
      }
    },
    {
      "data": {"name": "bins"},
      "transform": [{"filter": "datum.s == 'trk' && datum.n > 0"}],
      "mark": {"type": "point", "shape": "M0,-1L0.265,-0.364L0.951,-0.309L0.428,0.139L0.588,0.809L0,0.45L-0.588,0.809L-0.428,0.139L-0.951,-0.309L-0.265,-0.364Z", "filled": true, "color": "#5c5ce0", "opacity": 1, "size": 170},
      "encoding": {
        "x": {"field": "x", "type": "quantitative"},
        "y": {"field": "n", "type": "quantitative"}
      }
    },
    {
      "data": {"name": "bins"},
      "transform": [{"filter": "datum.s == 'jet' && isValid(datum.lo)"}],
      "mark": {"type": "rule", "color": "#222222", "strokeWidth": 1.5},
      "encoding": {
        "x": {"field": "x", "type": "quantitative"},
        "y": {"field": "lo", "type": "quantitative"},
        "y2": {"field": "hi"}
      }
    },
    {
      "data": {"name": "bins"},
      "transform": [{"filter": "datum.s == 'jet' && datum.n > 0"}],
      "mark": {"type": "rule", "color": "#222222", "strokeWidth": 1.5},
      "encoding": {
        "x": {"field": "xlo", "type": "quantitative"},
        "x2": {"field": "xhi"},
        "y": {"field": "n", "type": "quantitative"}
      }
    },
    {
      "data": {"name": "bins"},
      "transform": [{"filter": "datum.s == 'jet' && datum.n > 0"}],
      "mark": {"type": "point", "shape": "square", "filled": true, "color": "black", "opacity": 1, "size": 75},
      "encoding": {
        "x": {"field": "x", "type": "quantitative"},
        "y": {"field": "n", "type": "quantitative"}
      }
    },
    {
      "description": "legend box",
      "mark": {"type": "rect", "fill": "white", "stroke": "black", "strokeWidth": 1.5},
      "encoding": {
        "x": {"datum": 0.001227, "type": "quantitative"},
        "x2": {"datum": 0.4153},
        "y": {"datum": 937600, "type": "quantitative"},
        "y2": {"datum": 42450}
      }
    },
    {
      "mark": {"type": "rule", "color": "black", "strokeWidth": 3},
      "encoding": {"x": {"datum": 0.001456, "type": "quantitative"}, "x2": {"datum": 0.003304}, "y": {"datum": 503500, "type": "quantitative"}}
    },
    {
      "mark": {"type": "rule", "color": "black", "strokeWidth": 3},
      "encoding": {"x": {"datum": 0.001456, "type": "quantitative"}, "x2": {"datum": 0.003304}, "y": {"datum": 181000, "type": "quantitative"}}
    },
    {
      "mark": {"type": "rule", "color": "black", "strokeWidth": 1.5},
      "encoding": {"x": {"datum": 0.001456, "type": "quantitative"}, "x2": {"datum": 0.003304}, "y": {"datum": 65200, "type": "quantitative"}}
    },
    {
      "mark": {"type": "point", "shape": "circle", "filled": true, "color": "#ff0000", "opacity": 1, "size": 115},
      "encoding": {"x": {"datum": 0.002208, "type": "quantitative"}, "y": {"datum": 503500, "type": "quantitative"}}
    },
    {
      "mark": {"type": "point", "shape": "M0,-1L0.265,-0.364L0.951,-0.309L0.428,0.139L0.588,0.809L0,0.45L-0.588,0.809L-0.428,0.139L-0.951,-0.309L-0.265,-0.364Z", "filled": true, "color": "#5c5ce0", "opacity": 1, "size": 170},
      "encoding": {"x": {"datum": 0.002208, "type": "quantitative"}, "y": {"datum": 181000, "type": "quantitative"}}
    },
    {
      "mark": {"type": "point", "shape": "square", "filled": true, "color": "black", "opacity": 1, "size": 75},
      "encoding": {"x": {"datum": 0.002208, "type": "quantitative"}, "y": {"datum": 65200, "type": "quantitative"}}
    },
    {
      "mark": {"type": "text", "text": "RPS + Jet5", "font": "Liberation Serif", "fontWeight": "bold", "fontSize": 25.5, "align": "left", "baseline": "alphabetic", "color": "black"},
      "encoding": {"x": {"datum": 0.004012, "type": "quantitative"}, "y": {"datum": 405500, "type": "quantitative"}}
    },
    {
      "mark": {"type": "text", "text": "RPS (w/track)+Jet5 - rescaled", "font": "Liberation Serif", "fontWeight": "bold", "fontSize": 25.5, "align": "left", "baseline": "alphabetic", "color": "black"},
      "encoding": {"x": {"datum": 0.004012, "type": "quantitative"}, "y": {"datum": 138700, "type": "quantitative"}}
    },
    {
      "mark": {"type": "text", "text": "Jet5 (E", "font": "Liberation Serif", "fontWeight": "bold", "fontSize": 25.5, "align": "left", "baseline": "alphabetic", "color": "black"},
      "encoding": {"x": {"datum": 0.004012, "type": "quantitative"}, "y": {"datum": 55460, "type": "quantitative"}}
    },
    {
      "mark": {"type": "text", "text": "seed", "font": "Liberation Serif", "fontWeight": "bold", "fontSize": 15, "align": "left", "baseline": "alphabetic", "color": "black"},
      "encoding": {"x": {"datum": 0.01259, "type": "quantitative"}, "y": {"datum": 86000, "type": "quantitative"}}
    },
    {
      "mark": {"type": "text", "text": "T", "font": "Liberation Serif", "fontWeight": "bold", "fontSize": 20, "align": "left", "baseline": "alphabetic", "color": "black"},
      "encoding": {"x": {"datum": 0.01213, "type": "quantitative"}, "y": {"datum": 41500, "type": "quantitative"}}
    },
    {
      "mark": {"type": "text", "text": ">5 GeV) - rescaled", "font": "Liberation Serif", "fontWeight": "bold", "fontSize": 25.5, "align": "left", "baseline": "alphabetic", "color": "black"},
      "encoding": {"x": {"datum": 0.01875, "type": "quantitative"}, "y": {"datum": 55460, "type": "quantitative"}}
    },
    {
      "mark": {"type": "text", "text": "SD", "font": "Liberation Sans", "fontWeight": "bold", "fontSize": 57, "align": "center", "baseline": "alphabetic", "color": "#ff0000"},
      "encoding": {"x": {"datum": 0.05279, "type": "quantitative"}, "y": {"datum": 1.276, "type": "quantitative"}}
    },
    {
      "mark": {"type": "text", "text": "BG", "font": "Liberation Sans", "fontWeight": "bold", "fontSize": 57, "align": "center", "baseline": "alphabetic", "color": "black"},
      "encoding": {"x": {"datum": 0.9169, "type": "quantitative"}, "y": {"datum": 1.318, "type": "quantitative"}}
    },
    {
      "mark": {"type": "text", "text": "CDF Run II Preliminary", "font": "Liberation Sans", "fontWeight": "bold", "fontSize": 28, "align": "left", "baseline": "alphabetic", "color": "black"},
      "encoding": {"x": {"datum": 0.001014, "type": "quantitative"}, "y": {"datum": 1380000, "type": "quantitative"}}
    },
    {
      "mark": {"type": "text", "text": "Σ", "font": "Liberation Sans", "fontSize": 110, "align": "center", "baseline": "alphabetic", "color": "#4a4a4a"},
      "encoding": {"x": {"datum": 0.2104, "type": "quantitative"}, "y": {"datum": 1337000, "type": "quantitative"}}
    },
    {
      "mark": {"type": "text", "text": "towers", "font": "Liberation Serif", "fontStyle": "italic", "fontSize": 44, "align": "left", "baseline": "alphabetic", "color": "#555555"},
      "encoding": {"x": {"datum": 0.342, "type": "quantitative"}, "y": {"datum": 1290000, "type": "quantitative"}}
    },
    {
      "mark": {"type": "text", "text": "√s", "font": "Liberation Serif", "fontStyle": "italic", "fontSize": 44, "align": "left", "baseline": "alphabetic", "color": "#555555"},
      "encoding": {"x": {"datum": 2.748, "type": "quantitative"}, "y": {"datum": 1290000, "type": "quantitative"}}
    },
    {
      "mark": {"type": "text", "text": "ns spoiling diffractive signature", "font": "DejaVu Sans", "fontWeight": "bold", "fontSize": 44, "align": "left", "baseline": "alphabetic", "color": "#63b863"},
      "encoding": {"x": {"datum": 0.0002294, "type": "quantitative"}, "y": {"datum": 0.0064, "type": "quantitative"}}
    },
    {
      "mark": {"type": "text", "text": "ξ", "font": "Liberation Sans", "fontSize": 26, "align": "left", "baseline": "alphabetic", "color": "black"},
      "encoding": {"x": {"datum": 2.563, "type": "quantitative"}, "y": {"datum": 0.01698, "type": "quantitative"}}
    },
    {
      "mark": {"type": "text", "text": "CAL", "font": "Liberation Sans", "fontWeight": "bold", "fontSize": 21, "align": "left", "baseline": "alphabetic", "color": "black"},
      "encoding": {"x": {"datum": 3.028, "type": "quantitative"}, "y": {"datum": 0.02667, "type": "quantitative"}}
    },
    {
      "mark": {"type": "text", "text": "p̄", "font": "Liberation Sans", "fontWeight": "bold", "fontSize": 21, "align": "left", "baseline": "alphabetic", "color": "black"},
      "encoding": {"x": {"datum": 3.113, "type": "quantitative"}, "y": {"datum": 0.01153, "type": "quantitative"}}
    }
  ]
}
